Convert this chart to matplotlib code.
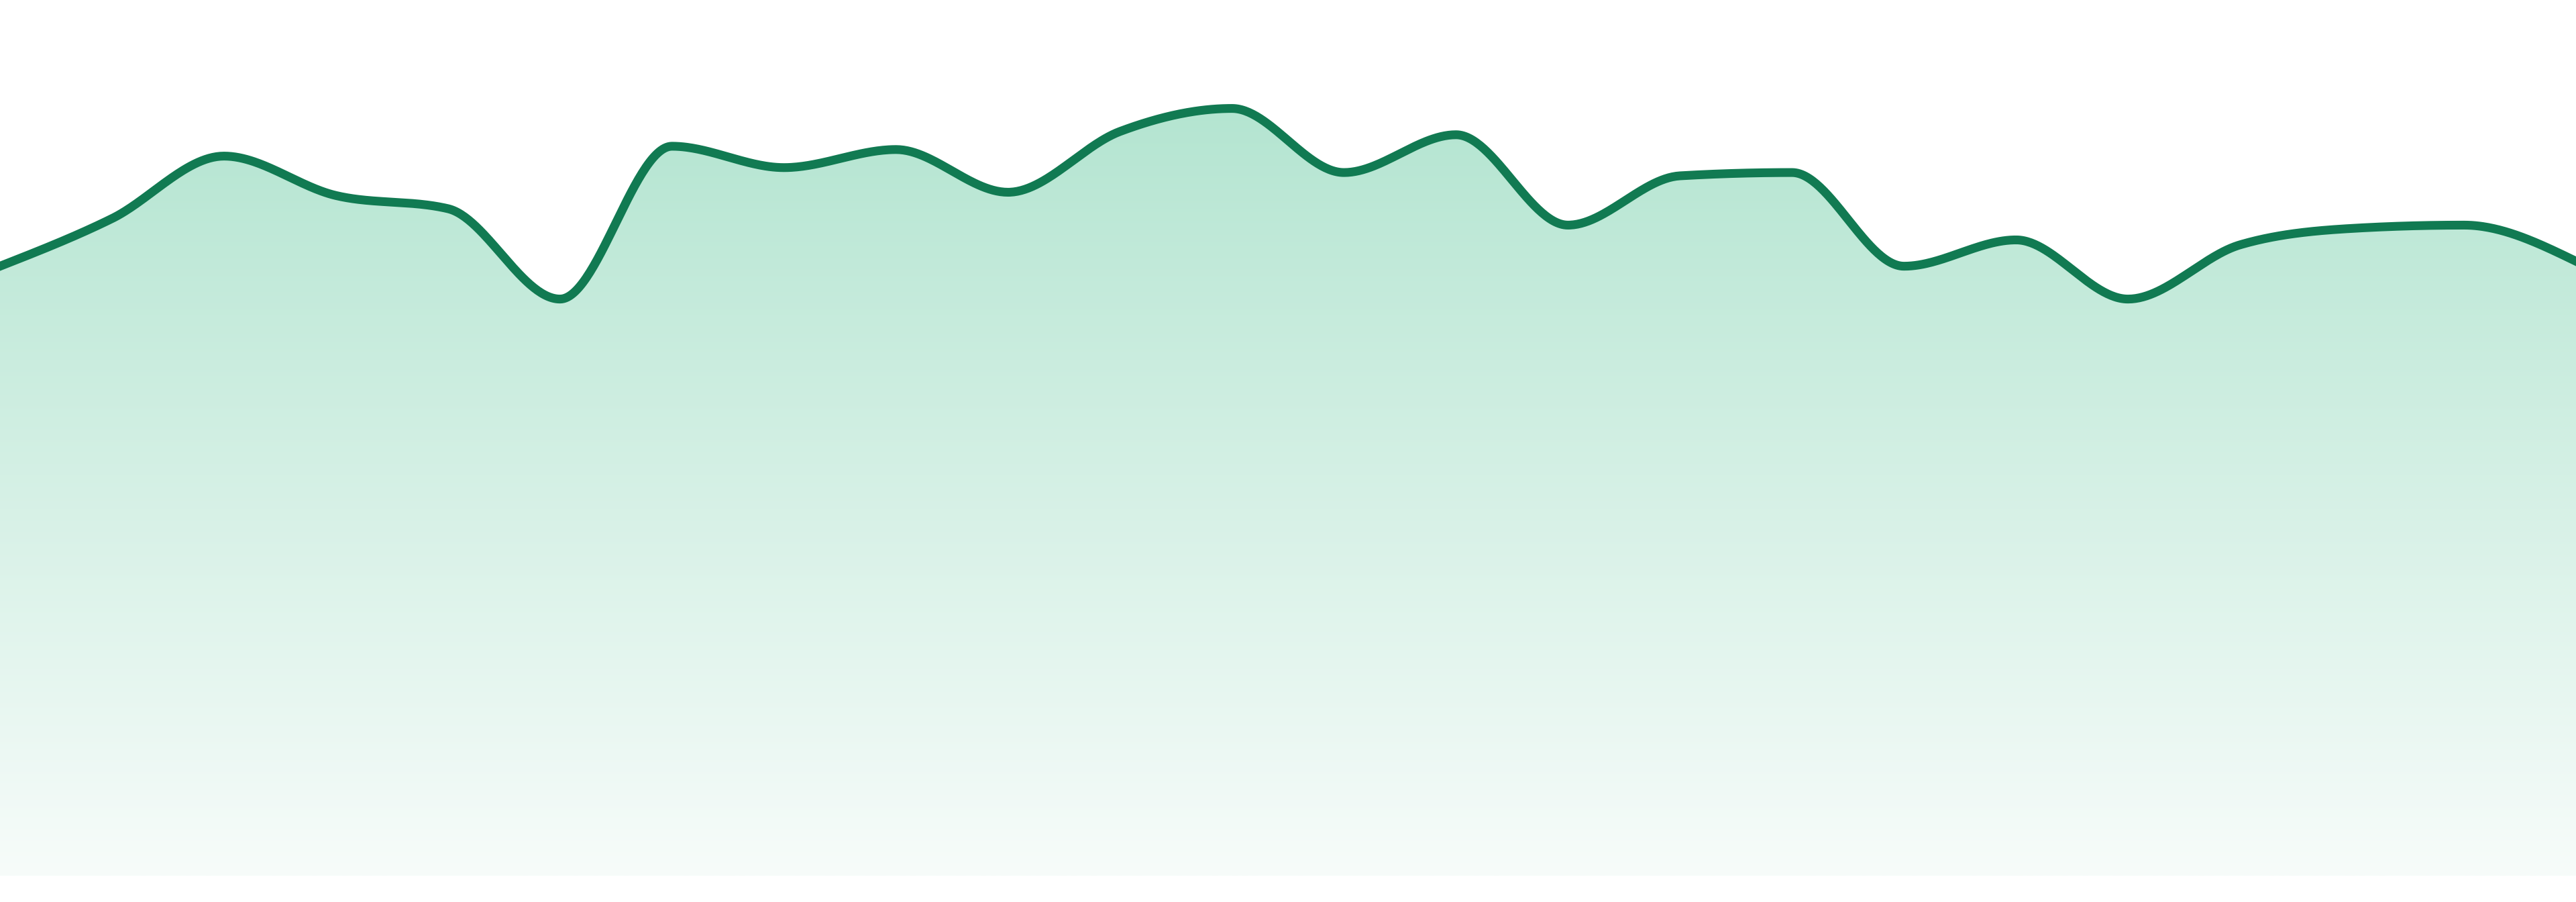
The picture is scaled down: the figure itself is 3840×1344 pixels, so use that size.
import numpy as np
import matplotlib
matplotlib.use("Agg")
import matplotlib.pyplot as plt
from matplotlib.patches import PathPatch
from matplotlib.path import Path

# values (arbitrary units, baseline 0)
points = list(range(24))
values = [371, 400, 438, 414, 406, 351, 444, 431, 442, 416, 453, 467,
          428, 451, 396, 426, 428, 371, 387, 351, 384, 394, 396, 374]

line_color = "#117a52"
fill_top = np.array([180, 229, 209]) / 255.0
fill_bottom = np.array([247, 252, 250]) / 255.0


def monotone_x(x, y, n=60):
    # same idea as d3.curveMonotoneX: cubic bezier with Fritsch-Carlson slopes
    x = np.asarray(x, float)
    y = np.asarray(y, float)
    h = np.diff(x)
    s = np.diff(y) / h
    t = np.zeros_like(x)
    for i in range(1, len(x) - 1):
        p = (s[i - 1] * h[i] + s[i] * h[i - 1]) / (h[i - 1] + h[i])
        t[i] = (np.sign(s[i - 1]) + np.sign(s[i])) * min(abs(s[i - 1]), abs(s[i]), 0.5 * abs(p))
    t[0] = (3 * s[0] - t[1]) / 2
    t[-1] = (3 * s[-1] - t[-2]) / 2
    xs, ys = [], []
    u = np.linspace(0, 1, n, endpoint=False)
    for i in range(len(x) - 1):
        dx = h[i] / 3
        px = [x[i], x[i] + dx, x[i + 1] - dx, x[i + 1]]
        py = [y[i], y[i] + dx * t[i], y[i + 1] - dx * t[i + 1], y[i + 1]]
        b = [(1 - u) ** 3, 3 * u * (1 - u) ** 2, 3 * u ** 2 * (1 - u), u ** 3]
        xs.append(sum(bb * pp for bb, pp in zip(b, px)))
        ys.append(sum(bb * pp for bb, pp in zip(b, py)))
    xs.append([x[-1]])
    ys.append([y[-1]])
    return np.concatenate(xs), np.concatenate(ys)


cx, cy = monotone_x(points, values)

fig = plt.figure(figsize=(38.4, 13.44), dpi=100)
ax = fig.add_axes([0, 39 / 1344, 1, 1305 / 1344])
ax.axis("off")

# vertical gradient under the curve
top = max(values)
grad_n = 256
frac = np.linspace(0, 1, grad_n)[:, None]  # 0 at y=0, 1 at top
colors = fill_bottom + (fill_top - fill_bottom) * frac
img = colors[:, None, :].repeat(2, axis=1)
im = ax.imshow(img, origin="lower", extent=[0, 23, 0, top], aspect="auto",
               interpolation="bilinear", zorder=1)
verts = np.column_stack([np.r_[cx, cx[-1], cx[0]], np.r_[cy, 0, 0]])
clip = PathPatch(Path(verts), facecolor="none", edgecolor="none")
ax.add_patch(clip)
im.set_clip_path(clip)

ax.plot(cx, cy, color=line_color, lw=9.4, solid_joinstyle="round", zorder=3)

# imshow resets the limits, so set them last
ax.set_xlim(0, 23)
ax.set_ylim(0, 533)

fig.savefig("out.png", dpi=100)
